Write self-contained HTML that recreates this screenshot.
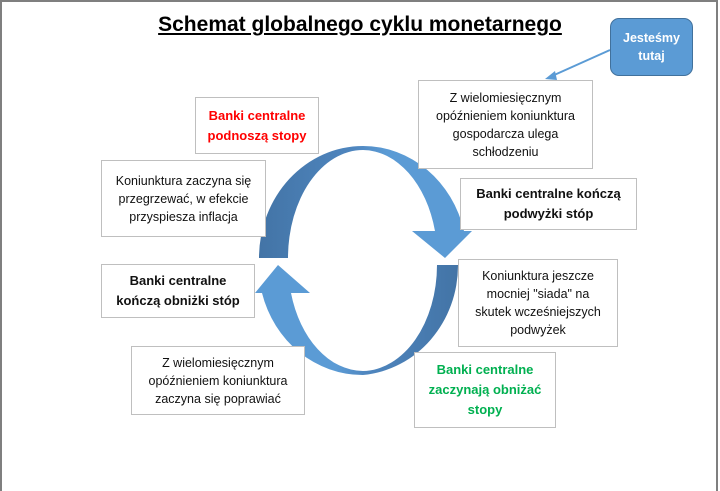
<!DOCTYPE html>
<html><head><meta charset="utf-8"><style>
body{margin:0;width:720px;height:491px;position:relative;background:#fff;font-family:"Liberation Sans","DejaVu Sans",sans-serif;overflow:hidden}
.b{position:absolute;background:#fff;border:1px solid #bfbfbf;box-sizing:border-box;display:flex;align-items:center;justify-content:center;text-align:center;font-size:12.5px;line-height:18px;color:#111}
.bold{font-weight:bold;font-size:13px;line-height:20px}
</style></head><body>
<div style="position:absolute;left:0;top:0;width:718px;height:491px;border-left:2px solid #7f7f7f;border-top:2px solid #7f7f7f;border-right:2px solid #7f7f7f;box-sizing:border-box"></div>
<div style="position:absolute;left:140px;top:13px;width:440px;text-align:center;font-weight:bold;font-size:21px;text-decoration:underline">Schemat globalnego cyklu monetarnego</div>
<svg width="720" height="491" style="position:absolute;left:0;top:0">
<defs>
<linearGradient id="g1" x1="0" x2="1" y1="0" y2="0"><stop offset="0" stop-color="#4374a6"/><stop offset="0.45" stop-color="#4f86bf"/><stop offset="0.6" stop-color="#5b9bd5"/><stop offset="1" stop-color="#5b9bd5"/></linearGradient>
<linearGradient id="g2" x1="1" x2="0" y1="0" y2="0"><stop offset="0" stop-color="#4374a6"/><stop offset="0.45" stop-color="#4f86bf"/><stop offset="0.6" stop-color="#5b9bd5"/><stop offset="1" stop-color="#5b9bd5"/></linearGradient>
</defs>
<path d="M259,258 A104,112 0 0 1 363,146 A104,112 0 0 1 464,231 L472,231 L445,258 L412,231 L435,231 A75,108 0 0 0 363,150 A75,108 0 0 0 288,258 Z" fill="url(#g1)"/>
<path d="M458,265 A104,110 0 0 1 363,375 A104,110 0 0 1 262,293 L255,293 L278,265 L310,293 L291,293 A75,106 0 0 0 363,371 A75,106 0 0 0 437,265 Z" fill="url(#g2)"/>
<line x1="610" y1="50" x2="552" y2="76" stroke="#5b9bd5" stroke-width="2"/>
<polygon points="545,79 555,71 557,80" fill="#5b9bd5"/>
</svg>
<div class="b bold" style="left:195px;top:97px;width:124px;height:57px;color:#ff0000">Banki centralne<br>podnoszą stopy</div>
<div class="b" style="left:101px;top:160px;width:165px;height:77px">Koniunktura zaczyna się<br>przegrzewać, w efekcie<br>przyspiesza inflacja</div>
<div class="b bold" style="left:101px;top:264px;width:154px;height:54px">Banki centralne<br>kończą obniżki stóp</div>
<div class="b" style="left:131px;top:346px;width:174px;height:69px">Z wielomiesięcznym<br>opóźnieniem koniunktura<br>zaczyna się poprawiać</div>
<div class="b" style="left:418px;top:80px;width:175px;height:89px">Z wielomiesięcznym<br>opóźnieniem koniunktura<br>gospodarcza ulega<br>schłodzeniu</div>
<div class="b bold" style="left:460px;top:178px;width:177px;height:52px">Banki centralne kończą<br>podwyżki stóp</div>
<div class="b" style="left:458px;top:259px;width:160px;height:88px">Koniunktura jeszcze<br>mocniej "siada" na<br>skutek wcześniejszych<br>podwyżek</div>
<div class="b bold" style="left:414px;top:352px;width:142px;height:76px;color:#00b050">Banki centralne<br>zaczynają obniżać<br>stopy</div>
<div style="position:absolute;left:610px;top:18px;width:83px;height:58px;background:#5b9bd5;border:1px solid #41719c;box-sizing:border-box;border-radius:9px;color:#fff;font-weight:bold;font-size:12.5px;line-height:18px;display:flex;align-items:center;justify-content:center;text-align:center">Jesteśmy<br>tutaj</div>
</body></html>
